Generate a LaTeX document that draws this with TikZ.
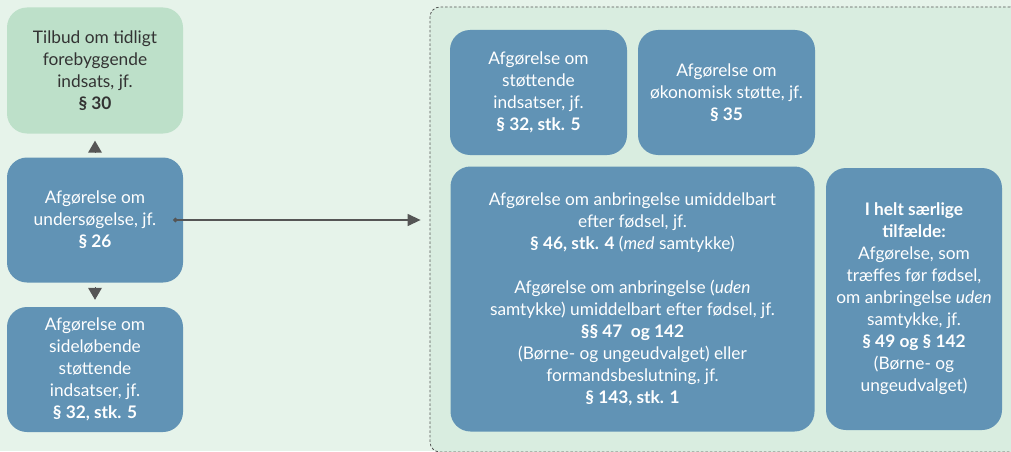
\documentclass[tikz,border=0pt]{standalone}
\usepackage{fontspec}
\setmainfont{Lato}
\usepackage{tikz}
\usetikzlibrary{arrows.meta,shapes,calc,positioning}
\definecolor{bgcol}{HTML}{E6F3EA}
\definecolor{grpcol}{HTML}{D9EDE0}
\definecolor{greencol}{HTML}{BDE0C9}
\definecolor{bluecol}{HTML}{6193B5}
\definecolor{linecol}{HTML}{555555}
\tikzstyle{box}   =[rectangle, rounded corners=20pt, inner sep=0pt,
                    align=center, font=\fontsize{17.3}{22}\selectfont]
\tikzstyle{bluebox}=[box, fill=bluecol, text=white]
\tikzstyle{greenbox}=[box, fill=greencol, text=black!80]
\tikzstyle{group} =[rectangle, rounded corners=10pt, draw=linecol,
                    dash pattern=on 2.5pt off 2pt, line width=0.8pt,
                    fill=grpcol, inner sep=0pt]
\tikzstyle{edge}  =[draw=linecol, line width=1.3pt]
\tikzstyle{tri}   =[draw=linecol, -{Triangle[width=14pt,length=12pt]},
                    line width=0pt, shorten <=6pt, shorten >=7pt]

\begin{document}
\begin{tikzpicture}[x=1pt, y=1pt, node distance=149.5pt, on grid]
            \useasboundingbox (0,0) rectangle (1011,451);
            \fill[bgcol] (0,0) rectangle (1011,451);
            \node (g) [group, minimum width=590pt, minimum height=445pt] at (725,221.5) {};
            % left column
            \node (a) [greenbox, minimum width=176pt, minimum height=126pt] at (95,380.5)
                {Tilbud om tidligt\\forebyggende\\indsats, jf.\\\textbf{§ 30}};
            \node (b) [bluebox, minimum width=176pt, minimum height=125pt, below= of a]
                {Afgørelse om\\undersøgelse, jf.\\\textbf{§ 26}};
            \node (c) [bluebox, minimum width=176pt, minimum height=125pt, below= of b]
                {Afgørelse om\\sideløbende\\støttende\\indsatser, jf.\\\textbf{§ 32, stk. 5}};
            % right group
            \node (d) [bluebox, minimum width=177pt, minimum height=125pt] at (538.5,358.5)
                {Afgørelse om\\støttende\\indsatser, jf.\\\textbf{§ 32, stk. 5}};
            \node (e) [bluebox, minimum width=177pt, minimum height=125pt, right=188pt of d]
                {Afgørelse om\\økonomisk støtte, jf.\\\textbf{§ 35}};
            \node (f) [bluebox, minimum width=364pt, minimum height=265pt] at (632.5,152)
                {Afgørelse om anbringelse umiddelbart\\efter fødsel, jf.\\
                 \textbf{§ 46, stk. 4} (\textit{med} samtykke)\\[22pt]
                 Afgørelse om anbringelse (\textit{uden}\\samtykke) umiddelbart efter fødsel, jf.\\
                 \textbf{§§ 47~~og 142}\\(Børne- og ungeudvalget) eller\\
                 formandsbeslutning, jf.\\\textbf{§ 143, stk. 1}};
            \node (h) [bluebox, minimum width=176pt, minimum height=262pt, right=281.5pt of f]
                {\textbf{I helt særlige}\\\textbf{tilfælde:}\\Afgørelse, som\\træffes før fødsel,\\
                 om anbringelse \textit{uden}\\samtykke, jf.\\\textbf{§ 49 og § 142}\\
                 (Børne- og\\ungeudvalget)};
            \draw[tri] (b.north) to (a.south);
            \draw[tri] (b.south) to (c.north);
            \draw[edge, {Circle[length=4.5pt]}-{Triangle[width=12pt,length=13pt]},
                  shorten >=9pt] ([xshift=-10pt]b.east) to (b -| g.west);

        \end{tikzpicture}
\end{document}
